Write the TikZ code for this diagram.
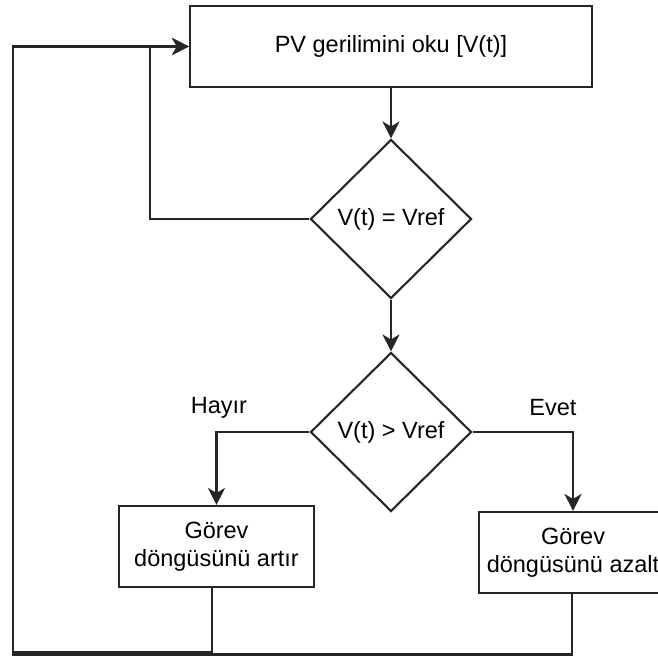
\documentclass[tikz,border=0pt]{standalone}
\usepackage{fontspec}
\setmainfont{Liberation Sans}
\usetikzlibrary{shapes.geometric,arrows.meta}
\begin{document}
\begin{tikzpicture}[x=1pt,y=-1pt,
  every node/.style={font=\fontsize{23.5}{28}\selectfont},
  line/.style={line width=2.1pt,draw=black!85},
  arr/.style={line,-{Stealth[length=17pt,width=17pt,inset=5pt]}},
  procbox/.style={rectangle,line,inner sep=0pt,align=center},
  decbox/.style={diamond,line,inner sep=0pt,aspect=1,minimum width=161pt,minimum height=159pt},
  lbl/.style={inner sep=0pt}]
\path[use as bounding box] (0,0) rectangle (658,658);
\clip (0,0) rectangle (658,658);
\node[procbox,minimum width=402pt,minimum height=81pt] (read) at (391,46.5) {PV gerilimini oku [V(t)]};
\node[decbox] (eq) at (391,219) {V(t) = Vref};
\node[decbox] (gt) at (391,432) {V(t) > Vref};
\node[procbox,minimum width=195pt,minimum height=81pt] (inc) at (216.5,546.5) {Görev\\döngüsünü artır};
\node[procbox,minimum width=188pt,minimum height=81pt] (dec) at (573,552.5) {Görev\\döngüsünü azalt};
\node[lbl] (no) at (219,408) {Hayır};
\node[lbl] (yes) at (553,408) {Evet};
\coordinate (eqL) at (150,219);
\coordinate (topJ) at (150,46.5);
\coordinate (outTop) at (13,46.5);
\coordinate (incB) at (212,652.5);
\coordinate (incBL) at (13,652.5);
\coordinate (decB) at (572,654.5);
\coordinate (decBL) at (13,654.5);
\draw[arr] (read.south) -- (eq.north);
\draw[arr] (eq.south) -- (gt.north);
\draw[arr] (eq.west) -- (eqL) -- (topJ) -- (read.west);
\draw[arr] (gt.west) -| (inc.north);
\draw[arr] (gt.east) -| (dec.north);
\draw[arr] (212,0 |- inc.south) -- (incB) -- (incBL) -- (outTop) -- (read.west);
\draw[line] (572,0 |- dec.south) -- (decB) -- (decBL) -- (incBL);
\end{tikzpicture}
\end{document}
